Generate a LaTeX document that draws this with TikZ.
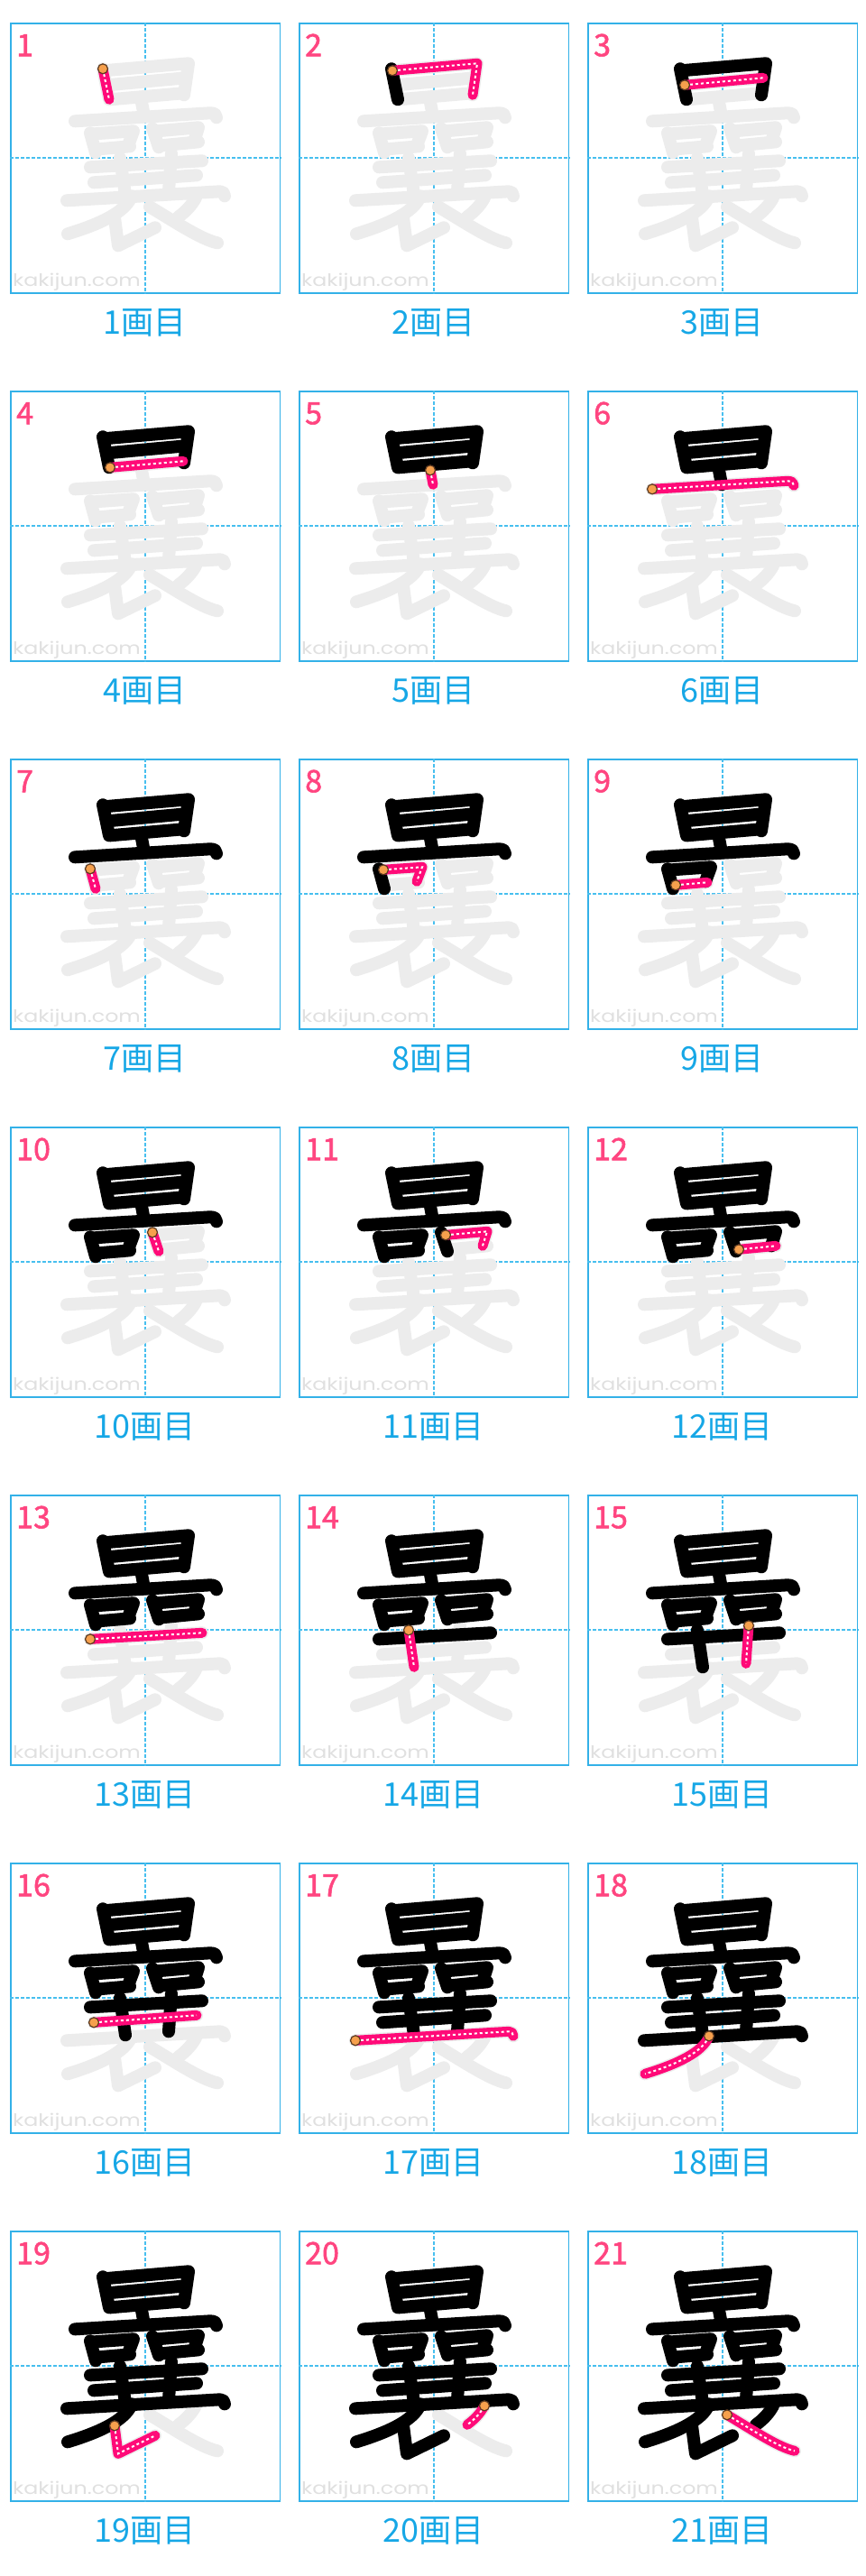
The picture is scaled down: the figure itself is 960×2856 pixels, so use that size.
\documentclass[tikz,border=0pt]{standalone}
\usepackage{fontspec}
\newfontfamily\jpfont{Noto Sans CJK JP}
\newfontfamily\numfont[FakeBold=1.6]{Noto Sans CJK JP}
\newfontfamily\markfont{Poppins}
\usetikzlibrary{positioning}

\definecolor{boxblue}{HTML}{33B1E8}
\definecolor{guideblue}{HTML}{47BFEF}
\definecolor{ghost}{HTML}{ECECEC}
\definecolor{hotpink}{HTML}{FF0A78}
\definecolor{numpink}{HTML}{FF4580}
\definecolor{capblue}{HTML}{16A7E6}
\definecolor{markgray}{HTML}{E0E0E0}
\definecolor{dotorange}{HTML}{F6A04D}
\definecolor{dotbrown}{HTML}{5C3B20}

\newcommand{\defstroke}[2]{\expandafter\def\csname kanjistroke#1\endcsname{#2}}
\newcommand{\kpath}[1]{\csname kanjistroke#1\endcsname}

\defstroke{1}{(103,51) coordinate (kstart) -- (110,85)}
\defstroke{2}{(104,53) coordinate (kstart) -- (198,45) -- (193,80)}
\defstroke{3}{(108,69) coordinate (kstart) -- (195,61)}
\defstroke{4}{(111,85) coordinate (kstart) -- (192,78)}
\defstroke{5}{(146,88) coordinate (kstart) -- (149,104)}
\defstroke{6}{(72,109) coordinate (kstart) -- (222,100) .. controls (227,100) and (229,102) .. (229,105)}
\defstroke{7}{(89,122) coordinate (kstart) -- (95,144)}
\defstroke{8}{(94,123) coordinate (kstart) -- (137,120) -- (131,136)}
\defstroke{9}{(98,140) coordinate (kstart) -- (133,137)}
\defstroke{10}{(158,117) coordinate (kstart) -- (165,138)}
\defstroke{11}{(163,120) coordinate (kstart) -- (209,116) -- (204,132)}
\defstroke{12}{(168,136) coordinate (kstart) -- (209,132)}
\defstroke{13}{(89,160) coordinate (kstart) -- (213,153)}
\defstroke{14}{(122,150) coordinate (kstart) -- (128,191)}
\defstroke{15}{(179,145) coordinate (kstart) -- (176,187)}
\defstroke{16}{(93,177) coordinate (kstart) -- (207,169)}
\defstroke{17}{(63,197) coordinate (kstart) -- (233,187) .. controls (236,187) and (238,189) .. (238,192)}
\defstroke{18}{(135,192) coordinate (kstart) .. controls (128,210) and (100,223) .. (64,234)}
\defstroke{19}{(116,216) coordinate (kstart) -- (120,247) -- (161,227)}
\defstroke{20}{(206,194) coordinate (kstart) .. controls (201,203) and (195,209) .. (187,215)}
\defstroke{21}{(155,204) coordinate (kstart) .. controls (185,222) and (212,240) .. (230,244)}

\begin{document}
\begin{tikzpicture}[x=1pt, y=-1pt]

  \tikzset{
    panelbox/.style={
        draw=boxblue,
        line width=1.8pt,
        fill=white,
        minimum size=298.5pt,
        inner sep=0pt,
        anchor=north west
      },
    guide/.style={guideblue, line width=2pt, dash pattern=on 3.5pt off 2.5pt},
    graystroke/.style={ghost, line width=14pt, line cap=round, line join=round},
    donestroke/.style={black, line width=14pt, line cap=round, line join=round},
    nowstroke/.style={hotpink, line width=11pt, line cap=round, line join=round},
    nowdots/.style={white, line width=2pt, dash pattern=on 3pt off 3pt},
    startdot/.style={
        shape=circle,
        fill=dotorange,
        draw=dotbrown,
        line width=1.2pt,
        minimum size=11pt,
        inner sep=0pt
      },
    numtext/.style={font=\numfont\fontsize{34}{34}\selectfont, text=numpink, anchor=base west, inner sep=0pt},
    captext/.style={font=\jpfont\fontsize{36}{36}\selectfont, text=capblue, anchor=base, inner sep=0pt},
    marktext/.style={font=\markfont\fontsize{19}{19}\selectfont, text=markgray, anchor=base west, inner sep=0pt}
  }

  \useasboundingbox (0,0) rectangle (960,2856);

  \foreach \n in {1,...,21} {
    \pgfmathtruncatemacro{\prow}{(\n-1)/3}
    \pgfmathtruncatemacro{\pcol}{\n-1-3*\prow}
    \pgfmathtruncatemacro{\nprev}{\n-1}
    \begin{scope}[shift={(11+320*\pcol, 25.3+408*\prow)}]
      \node[panelbox] (box\n) at (0,0) {};
      \draw[guide] (box\n.north) -- (box\n.south);
      \draw[guide] (box\n.west) -- (box\n.east);
      \node[marktext] (mark\n) at (3,292.5) {\scalebox{1.25}[1]{kakijun.com}};
      \foreach \k in {1,...,21} \draw[graystroke] \kpath{\k};
      \ifnum\n>1
        \foreach \k in {1,...,\nprev} \draw[donestroke] \kpath{\k};
      \fi
      \draw[nowstroke] \kpath{\n};
      \draw[nowdots] \kpath{\n};
      \node[startdot] (dot\n) at (kstart) {};
      \node[numtext] (num\n) at (7,37) {\n};
      \node[captext] (cap\n) at (149.3,345.5) {\n{}画目};
    \end{scope}
  }
\end{tikzpicture}
\end{document}
